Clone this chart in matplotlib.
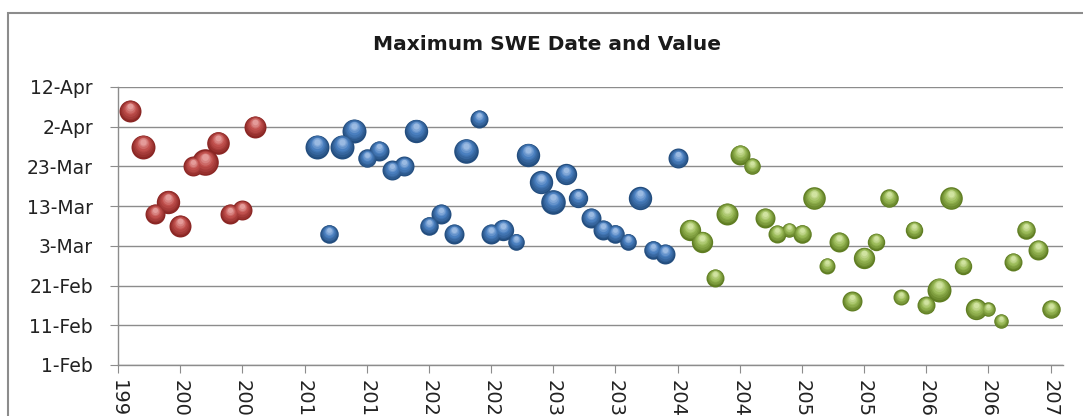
import matplotlib
matplotlib.use('Agg')
import matplotlib.pyplot as plt
from matplotlib.transforms import offset_copy
from matplotlib.colors import to_rgb
from matplotlib.patches import Rectangle
import numpy as np

plt.rcParams["font.family"] = ["DejaVu Sans"]

# 观测期（红色）
red_years = [1996, 1997, 1998, 1999, 2000, 2001, 2002, 2003, 2004, 2005, 2006]
red_days = [96, 87, 70, 73, 67, 82, 83, 88, 70, 71, 92]
red_swe = [121, 144, 100, 137, 121, 100, 177, 128, 100, 100, 121]

# 近期（蓝色）
blue_years = [2011, 2012, 2013, 2014, 2015, 2016, 2017, 2018, 2019, 2020,
              2021, 2022, 2023, 2024, 2025, 2026, 2027, 2028, 2029, 2030,
              2031, 2032, 2033, 2034, 2035, 2036, 2037, 2038, 2039, 2040]
blue_days = [87, 65, 87, 91, 84, 86, 81, 82, 91, 67,
             70, 65, 86, 94, 65, 66, 63, 85, 78, 73,
             80, 74, 69, 66, 65, 63, 74, 61, 60, 84]
blue_swe = [144, 86, 144, 144, 86, 100, 100, 100, 137, 86,
            100, 100, 151, 81, 100, 114, 69, 137, 137, 151,
            114, 94, 100, 100, 86, 69, 137, 86, 100, 100]

# 远期（绿色）
green_years = [2041, 2042, 2043, 2044, 2045, 2046, 2047, 2048, 2049, 2050,
               2051, 2052, 2053, 2054, 2055, 2056, 2057, 2058, 2059, 2060,
               2061, 2062, 2063, 2064, 2065, 2066, 2067, 2068, 2069, 2070]
green_days = [66, 63, 54, 70, 85, 82, 69, 65, 66, 65,
              74, 57, 63, 48, 59, 63, 74, 49, 66, 47,
              51, 74, 57, 46, 46, 43, 58, 66, 61, 46]
green_swe = [114, 114, 81, 121, 100, 69, 100, 81, 53, 86,
             128, 64, 100, 100, 114, 76, 86, 64, 76, 81,
             144, 128, 76, 114, 53, 53, 81, 86, 100, 86]

# 纵轴：一年中的第几天
y_ticks = [32, 42, 52, 62, 72, 82, 92, 102]
y_labels = ["1-Feb", "11-Feb", "21-Feb", "3-Mar", "13-Mar", "23-Mar", "2-Apr", "12-Apr"]
x_ticks = [1995, 2000, 2005, 2010, 2015, 2020, 2025, 2030, 2035,
           2040, 2045, 2050, 2055, 2060, 2065, 2070]

series = [
    (red_years, red_days, red_swe, "#8a2624", "#c0504d", "#f0b4b2"),
    (blue_years, blue_days, blue_swe, "#234d7e", "#4a7fbf", "#b4cdee"),
    (green_years, green_days, green_swe, "#5f7d22", "#9bbb59", "#e2f0b8"),
]


def mix(c1, c2, t):
    a = np.array(to_rgb(c1))
    b = np.array(to_rgb(c2))
    return tuple(a + (b - a) * t)


fig = plt.figure(figsize=(10.83, 4.16), dpi=100)
ax = fig.add_axes([0.109, 0.1226, 0.8725, 0.6683])

# 图表外框
fig.patches.append(Rectangle((0.0074, -0.1), 1.1, 1.069, transform=fig.transFigure,
                             fill=False, edgecolor="#8c8c8c", linewidth=1.5, zorder=0))

scale = 2.07
n_layers = 8
for years, days, swe, dark, base, light in series:
    for x, y, v in zip(years, days, swe):
        s0 = v * scale
        r0 = np.sqrt(s0) / 2.0
        for k in range(n_layers):
            f = 1.0 - 0.85 * k / n_layers
            if k == 0:
                col = dark
            elif k < n_layers // 2:
                col = mix(dark, base, k / (n_layers // 2))
            else:
                col = mix(base, light, (k - n_layers // 2) / (n_layers // 2))
            dy = (1.0 - f) * r0 * 0.55
            tr = offset_copy(ax.transData, fig=fig, x=0, y=dy, units='points')
            ax.scatter([x], [y], s=s0 * f * f, color=col, linewidths=0,
                       transform=tr, zorder=3 + k)

ax.set_xlim(1995, 2071)
ax.set_ylim(32, 102)
ax.set_yticks(y_ticks)
ax.set_yticklabels(y_labels)
ax.set_xticks(x_ticks)
ax.set_xticklabels([str(t) for t in x_ticks], rotation=-90, va="top", ha="center")

ax.grid(axis="y", color="#8c8c8c", linewidth=1.0)
ax.set_axisbelow(True)
for side in ["top", "right"]:
    ax.spines[side].set_visible(False)
for side in ["left", "bottom"]:
    ax.spines[side].set_color("#8c8c8c")
    ax.spines[side].set_linewidth(1.0)
ax.tick_params(axis="both", direction="out", length=6, color="#8c8c8c",
               labelsize=13.5, labelcolor="#222222")
ax.tick_params(axis="y", pad=12)
ax.tick_params(axis="x", pad=4.5, labelsize=14)

fig.text(0.505, 0.892, "Maximum SWE Date and Value", ha="center", va="center",
         fontsize=14.5, fontweight="bold", color="#1a1a1a")

fig.savefig("out.png", dpi=100)
